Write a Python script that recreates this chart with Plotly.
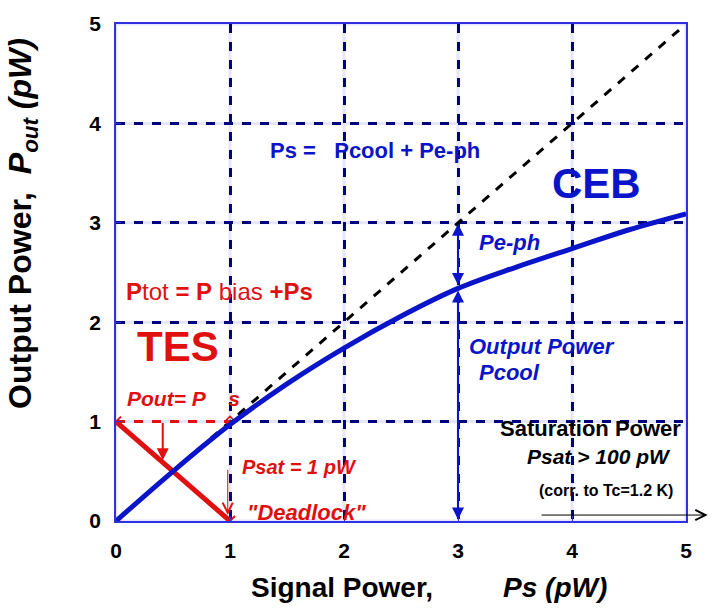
import plotly.graph_objects as go

ceb_x = [0, 0.5, 1, 1.5, 2, 2.5, 3, 3.5, 4, 4.5, 5]
ceb_y = [0, 0.50, 0.97, 1.38, 1.74, 2.06, 2.34, 2.55, 2.74, 2.93, 3.09]
ideal_x = [0, 5]
ideal_y = [0, 5]
tes_x = [0, 1]
tes_y = [1, 0]
tes_flat_x = [0, 1]
tes_flat_y = [1, 1]
ticks = [0, 1, 2, 3, 4, 5]

RED = "#e01010"
BLUE = "#0a14c8"
NAVY = "#000080"
FONT = "Liberation Sans, Arial, sans-serif"

fig = go.Figure()
fig.add_trace(go.Scatter(x=ideal_x, y=ideal_y, mode="lines",
                         line=dict(color="black", width=3, dash="dash")))
fig.add_trace(go.Scatter(x=tes_flat_x, y=tes_flat_y, mode="lines",
                         line=dict(color=RED, width=3, dash="dash")))
fig.add_trace(go.Scatter(x=tes_x, y=tes_y, mode="lines+markers",
                         line=dict(color=RED, width=5),
                         marker=dict(symbol="x-thin", size=10, line=dict(color=RED, width=2))))
fig.add_trace(go.Scatter(x=[1], y=[1], mode="markers",
                         marker=dict(symbol="diamond-open", size=8, color=RED, line=dict(width=1.5))))
fig.add_trace(go.Scatter(x=ceb_x, y=ceb_y, mode="lines", line_shape="spline",
                         line=dict(color=BLUE, width=5)))

# light solid underlay beneath dashed grid
for t in ticks:
    fig.add_shape(type="line", x0=t, x1=t, y0=0, y1=5, xref="x", yref="y",
                  line=dict(color="#e6e6ff", width=3), layer="below")
    fig.add_shape(type="line", x0=0, x1=5, y0=t, y1=t, xref="x", yref="y",
                  line=dict(color="#e6e6ff", width=3), layer="below")

def txt(x, y, s, color, size, xanchor="left", bold=True, italic=False):
    t = s
    if italic:
        t = "<i>" + t + "</i>"
    if bold:
        t = "<b>" + t + "</b>"
    fig.add_annotation(x=x, y=y, xref="x", yref="y", text=t, showarrow=False,
                       xanchor=xanchor, yanchor="middle",
                       font=dict(family=FONT, size=size, color=color))

# red texts
fig.add_annotation(x=0.07, y=2.31, xref="x", yref="y", showarrow=False, xanchor="left",
                   text="<b>P</b>tot <b>= P</b> bias <b>+Ps</b>",
                   font=dict(family=FONT, size=24, color=RED))
txt(0.54, 1.76, "TES", RED, 42, xanchor="center")
txt(0.08, 1.23, "Pout= P    s", RED, 21, italic=True)
txt(1.09, 0.54, "Psat = 1 pW", RED, 20, italic=True)
txt(1.13, 0.09, "\"Deadlock\"", RED, 22, italic=True)
txt(-0.52, 0.51, "Pbias0", RED, 19, xanchor="center", italic=True)

# blue texts
txt(1.33, 3.73, "Ps =   Pcool + Pe-ph", BLUE, 22)
txt(3.81, 3.40, "CEB", BLUE, 42)
txt(3.17, 2.80, "Pe-ph", BLUE, 22, italic=True)
txt(3.08, 1.76, "Output Power", BLUE, 22, italic=True)
txt(3.17, 1.49, "Pcool", BLUE, 22, italic=True)

# black texts
txt(4.97, 0.93, "Saturation Power", "black", 22, xanchor="right")
txt(4.89, 0.65, "Psat > 100 pW", "black", 21, xanchor="right", italic=True)
txt(4.90, 0.31, "(corr. to Tc=1.2 K)", "black", 16, xanchor="right")

def arrow(x0, y0, x1, y1, color, width, head=2, side="end", size=1.2):
    fig.add_annotation(x=x1, y=y1, ax=x0, ay=y0, xref="x", yref="y", axref="x", ayref="y",
                       text="", showarrow=True, arrowhead=head, startarrowhead=head,
                       arrowside=side, arrowwidth=width, arrowcolor=color, arrowsize=size)

# red arrows
arrow(-0.03, 0, -0.03, 1.0, RED, 2, head=2)
arrow(0.41, 1.0, 0.41, 0.61, RED, 2, head=2)
arrow(0.98, 0.53, 0.98, 0.06, RED, 1, head=5, size=2)
# blue arrows
arrow(3.0, 2.36, 3.0, 2.99, BLUE, 2, head=2, side="end+start")
arrow(3.0, 0.0, 3.0, 2.32, BLUE, 2, head=2, side="end+start")
# black arrow
arrow(3.72, 0.06, 5.19, 0.06, "black", 1, head=5, size=2)

# axis titles
fig.add_annotation(x=0.549, y=-0.134, xref="paper", yref="paper", showarrow=False,
                   xanchor="center", yanchor="middle",
                   text="<b>Signal Power,         <i>Ps (pW)</i></b>",
                   font=dict(family=FONT, size=28, color="black"))
fig.add_annotation(x=-0.163, y=0.598, xref="paper", yref="paper", showarrow=False,
                   xanchor="center", yanchor="middle", textangle=-90,
                   text="<b>Output Power,  <i>P</i><sub><i>out</i></sub> <i>(pW)</i></b>",
                   font=dict(family=FONT, size=32, color="black"))

axis_common = dict(range=[0, 5], tickvals=ticks, showgrid=True, gridcolor=NAVY,
                   gridwidth=2.5, griddash="dash", zeroline=False, showline=True,
                   linecolor="#3030e0", linewidth=1.5, mirror=True,
                   ticks="inside", ticklen=5, tickcolor="#3030e0",
                   tickfont=dict(family=FONT, size=21, color="black", weight="bold"))

fig.update_xaxes(**axis_common, ticklabelstandoff=10)
fig.update_yaxes(**axis_common, ticklabelstandoff=9)

fig.update_layout(width=713, height=612, margin=dict(l=116, r=27, t=20, b=91),
                  plot_bgcolor="white", paper_bgcolor="white", showlegend=False)

fig.write_html("out.html")
